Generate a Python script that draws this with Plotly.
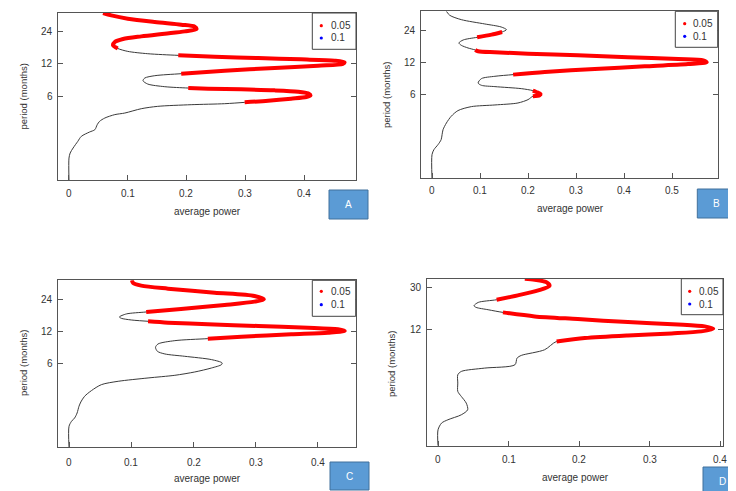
import numpy as np
import plotly.graph_objects as go

W, H = 736, 491
FONT = "Liberation Sans, Arial, sans-serif"

# ---------------- data (average power vs log2(period in months)) ----------------
power_A = [0.000, 0.000, 0.002, 0.007, 0.015, 0.021, 0.035, 0.044, 0.048, 0.052, 0.061, 0.078, 0.095,
           0.123, 0.151, 0.208, 0.265, 0.299, 0.339, 0.378, 0.404, 0.411, 0.407, 0.390, 0.350, 0.293,
           0.237, 0.203, 0.163, 0.134, 0.126, 0.129, 0.146, 0.191, 0.265, 0.350, 0.424, 0.466, 0.469,
           0.452, 0.395, 0.322, 0.248, 0.186, 0.134, 0.100, 0.083, 0.075, 0.078, 0.092, 0.123, 0.163,
           0.197, 0.217, 0.214, 0.191, 0.146, 0.100, 0.072, 0.058]
log2_period_A = [-0.023, 0.667, 0.822, 0.977, 1.183, 1.338, 1.472, 1.544, 1.698, 1.801, 1.905, 2.010, 2.059,
                 2.193, 2.266, 2.317, 2.348, 2.389, 2.441, 2.503, 2.554, 2.606, 2.667, 2.719, 2.760, 2.791,
                 2.812, 2.832, 2.874, 2.956, 3.059, 3.142, 3.214, 3.276, 3.368, 3.451, 3.523, 3.575, 3.626,
                 3.678, 3.719, 3.760, 3.801, 3.843, 3.894, 3.966, 4.056, 4.152, 4.255, 4.348, 4.430, 4.513,
                 4.585, 4.657, 4.729, 4.791, 4.874, 4.977, 5.080, 5.152]
signif_A = [0]*17 + [1]*11 + [0]*5 + [1]*11 + [0]*2 + [1]*14

power_B = [0.000, 0.000, 0.004, 0.0125, 0.019, 0.021, 0.023, 0.030, 0.040, 0.054, 0.082, 0.131, 0.179,
           0.200, 0.210, 0.224, 0.226, 0.217, 0.210, 0.186, 0.131, 0.103, 0.096, 0.103, 0.131, 0.169,
           0.235, 0.339, 0.443, 0.533, 0.572, 0.565, 0.513, 0.408, 0.304, 0.200, 0.131, 0.096, 0.090,
           0.075, 0.061, 0.056, 0.065, 0.094, 0.124, 0.146, 0.155, 0.144, 0.110, 0.061, 0.037, 0.030]
log2_period_B = [-0.040, 0.700, 0.856, 1.012, 1.168, 1.325, 1.481, 1.689, 1.898, 2.075, 2.200, 2.252, 2.314,
                 2.419, 2.523, 2.554, 2.595, 2.658, 2.700, 2.762, 2.825, 2.866, 2.939, 3.075, 3.148, 3.200,
                 3.283, 3.377, 3.460, 3.533, 3.585, 3.648, 3.689, 3.741, 3.804, 3.856, 3.898, 3.929, 3.970,
                 4.033, 4.116, 4.189, 4.283, 4.366, 4.450, 4.533, 4.606, 4.689, 4.783, 4.918, 5.054, 5.179]
signif_B = [0]*14 + [1]*5 + [0]*6 + [1]*14 + [0]*4 + [1]*3 + [0]*6

power_C = [0.000, 0.000, 0.004, 0.009, 0.013, 0.016, 0.019, 0.025, 0.036, 0.052, 0.079, 0.127, 0.170,
           0.202, 0.229, 0.245, 0.246, 0.229, 0.186, 0.154, 0.142, 0.139, 0.143, 0.170, 0.223, 0.277,
           0.357, 0.416, 0.443, 0.432, 0.384, 0.304, 0.223, 0.159, 0.127, 0.100, 0.084, 0.081, 0.092,
           0.124, 0.180, 0.250, 0.298, 0.313, 0.298, 0.234, 0.159, 0.116, 0.103, 0.101]
log2_period_C = [-0.040, 0.616, 0.772, 0.877, 1.033, 1.241, 1.377, 1.554, 1.731, 1.918, 2.023, 2.127, 2.210,
                 2.314, 2.439, 2.544, 2.596, 2.700, 2.804, 2.877, 2.960, 3.085, 3.189, 3.293, 3.356, 3.418,
                 3.491, 3.543, 3.595, 3.648, 3.700, 3.752, 3.804, 3.856, 3.898, 3.939, 3.991, 4.033, 4.127,
                 4.189, 4.283, 4.408, 4.512, 4.585, 4.689, 4.793, 4.918, 5.012, 5.095, 5.179]
signif_C = [0]*24 + [1]*11 + [0]*4 + [1]*11

power_D = [0.000, 0.000, 0.005, 0.014, 0.033, 0.042, 0.040, 0.033, 0.028, 0.028, 0.028, 0.033, 0.066,
           0.109, 0.112, 0.118, 0.151, 0.168, 0.208, 0.269, 0.331, 0.373, 0.390, 0.378, 0.340, 0.269,
           0.198, 0.137, 0.092, 0.071, 0.054, 0.051, 0.057, 0.083, 0.113, 0.142, 0.158, 0.153, 0.137, 0.123]
log2_period_D = [-0.088, 0.416, 0.626, 0.731, 0.888, 1.046, 1.255, 1.465, 1.623, 1.885, 2.147, 2.252, 2.357,
                 2.462, 2.672, 2.756, 2.934, 3.197, 3.302, 3.386, 3.449, 3.512, 3.596, 3.669, 3.732, 3.805,
                 3.900, 3.984, 4.110, 4.194, 4.267, 4.319, 4.424, 4.508, 4.645, 4.802, 4.949, 5.065, 5.138, 5.170]
signif_D = [0]*17 + [1]*12 + [0]*4 + [1]*7

xticks_A = [0, 0.1, 0.2, 0.3, 0.4]
xticks_B = [0, 0.1, 0.2, 0.3, 0.4, 0.5]
xticks_C = [0, 0.1, 0.2, 0.3, 0.4]
xticks_D = [0, 0.1, 0.2, 0.3, 0.4]
yticks_ABC = [6, 12, 24]
yticks_D = [12, 30]
legend_levels = ["0.05", "0.1"]
legend_colors = ["#ff0000", "#0000ff"]


def fx(px):
    return px / W


def fy(py):
    return 1 - py / H


panels = [
    dict(name="A", p=power_A, lp=log2_period_A, s=signif_A, box=(50, 348, 5, 172),
         xr=(-0.0187, 0.4885), yr=(-0.012, 5.153), xt=xticks_A, yt=yticks_ABC, xlaby=185,
         leg=(304.3, 348, 5, 41.3), dotx=313.3, textx=320.5, rows=(17.7, 30),
         ytitle=(15, 88.5), xtitle=(199, 203), lab=(321, 360, 182, 211)),
    dict(name="B", p=power_B, lp=log2_period_B, s=signif_B, box=(413.3, 709.7, 3.3, 170.3),
         xr=(-0.0223, 0.595), yr=(-0.04, 5.179), xt=xticks_B, yt=yticks_ABC, xlaby=182.7,
         leg=(667.3, 709.7, 3.3, 39.3), dotx=676.7, textx=683, rows=(15.7, 28.3),
         ytitle=(378, 87), xtitle=(562, 201), lab=(689.3, 728.3, 181, 210)),
    dict(name="C", p=power_C, lp=log2_period_C, s=signif_C, box=(50, 347.7, 272.3, 439.3),
         xr=(-0.0177, 0.4606), yr=(-0.04, 5.179), xt=xticks_C, yt=yticks_ABC, xlaby=454,
         leg=(304.3, 347.7, 272.3, 308.3), dotx=313.3, textx=320.5, rows=(283.3, 296.7),
         ytitle=(15, 355), xtitle=(199, 470), lab=(322, 361, 454, 482)),
    dict(name="D", p=power_D, lp=log2_period_D, s=signif_D, box=(419.3, 715, 270.7, 437.7),
         xr=(-0.0152, 0.4038), yr=(-0.085, 5.17), xt=xticks_D, yt=yticks_D, xlaby=451,
         leg=(673.3, 715, 270.7, 306.7), dotx=681.7, textx=688.5, rows=(283.3, 296),
         ytitle=(383, 355), xtitle=(567, 469), lab=(695, 733.3, 459, 487)),
]

fig = go.Figure()
shapes = []
annotations = []
layout_axes = {}
TXT = "#333"

for i, pn in enumerate(panels, start=1):
    sfx = "" if i == 1 else str(i)
    xa, ya = "x" + sfx, "y" + sfx
    fig.add_trace(go.Scatter(x=pn["p"], y=pn["lp"], mode="lines", xaxis=xa, yaxis=ya,
                             line=dict(color="#3a3a3a", width=1, shape="spline", smoothing=0.8),
                             showlegend=False, hoverinfo="skip"))
    rx = [p if s else None for p, s in zip(pn["p"], pn["s"])]
    ry = [l if s else None for l, s in zip(pn["lp"], pn["s"])]
    fig.add_trace(go.Scatter(x=rx, y=ry, mode="lines", xaxis=xa, yaxis=ya, connectgaps=False,
                             line=dict(color="#ff0000", width=4, shape="spline", smoothing=0.8),
                             showlegend=False, hoverinfo="skip"))

    x0, x1, y0, y1 = pn["box"]
    yvals = list(np.log2(pn["yt"]))
    layout_axes["xaxis" + sfx] = dict(
        domain=[fx(x0), fx(x1)], range=list(pn["xr"]), anchor=ya,
        tickvals=pn["xt"], showticklabels=False,
        ticks="inside", ticklen=5, tickcolor="#555", showline=True, linecolor="#555",
        linewidth=1, mirror=True, showgrid=False, zeroline=False)
    layout_axes["yaxis" + sfx] = dict(
        domain=[fy(y1), fy(y0)], range=list(pn["yr"]), anchor=xa,
        tickvals=yvals, showticklabels=False,
        ticks="inside", ticklen=5, tickcolor="#555", showline=True, linecolor="#555",
        linewidth=1, mirror="ticks", showgrid=False, zeroline=False)

    # tick labels
    for v in pn["xt"]:
        annotations.append(dict(x=v, y=fy(pn["xlaby"]), xref=xa, yref="paper", text=f"{v:g}",
                                xanchor="center", yanchor="middle", showarrow=False,
                                font=dict(size=10, color=TXT, family=FONT)))
    for v, t in zip(yvals, pn["yt"]):
        annotations.append(dict(x=fx(x0 - 3), y=v, xref="paper", yref=ya, text=str(t),
                                xanchor="right", yanchor="middle", showarrow=False,
                                font=dict(size=10, color=TXT, family=FONT)))

    # axis titles
    tx, ty = pn["ytitle"]
    annotations.append(dict(x=fx(tx), y=fy(ty), xref="paper", yref="paper", text="period (months)",
                            textangle=-90, xanchor="center", yanchor="middle", showarrow=False,
                            font=dict(size=9.5, color=TXT, family=FONT)))
    tx, ty = pn["xtitle"]
    annotations.append(dict(x=fx(tx), y=fy(ty), xref="paper", yref="paper", text="average power",
                            xanchor="center", yanchor="middle", showarrow=False,
                            font=dict(size=10, color=TXT, family=FONT)))

    # legend box
    lx0, lx1, ly0, ly1 = pn["leg"]
    shapes.append(dict(type="rect", xref="paper", yref="paper", x0=fx(lx0), x1=fx(lx1),
                       y0=fy(ly1), y1=fy(ly0), line=dict(color="#444", width=1), fillcolor="white"))
    for lvl, col, ry_ in zip(legend_levels, legend_colors, pn["rows"]):
        r = 1.6
        shapes.append(dict(type="circle", xref="paper", yref="paper",
                           x0=fx(pn["dotx"] - r), x1=fx(pn["dotx"] + r),
                           y0=fy(ry_ + r), y1=fy(ry_ - r), line=dict(width=0), fillcolor=col))
        annotations.append(dict(x=fx(pn["textx"]), y=fy(ry_), xref="paper", yref="paper", text=lvl,
                                xanchor="left", yanchor="middle", showarrow=False,
                                font=dict(size=10, color=TXT, family=FONT)))

    # panel label box
    bx0, bx1, by0, by1 = pn["lab"]
    shapes.append(dict(type="rect", xref="paper", yref="paper", x0=fx(bx0), x1=fx(bx1),
                       y0=fy(by1), y1=fy(by0), line=dict(color="#41719c", width=1), fillcolor="#5b9bd5"))
    annotations.append(dict(x=fx((bx0 + bx1) / 2), y=fy((by0 + by1) / 2), xref="paper", yref="paper",
                            text=pn["name"], xanchor="center", yanchor="middle", showarrow=False,
                            font=dict(size=10, color="white", family=FONT)))

fig.update_layout(
    width=W, height=H, autosize=False,
    margin=dict(l=0, r=0, t=0, b=0),
    paper_bgcolor="white", plot_bgcolor="white",
    shapes=shapes, annotations=annotations,
    **layout_axes,
)

fig.write_html("out.html")
